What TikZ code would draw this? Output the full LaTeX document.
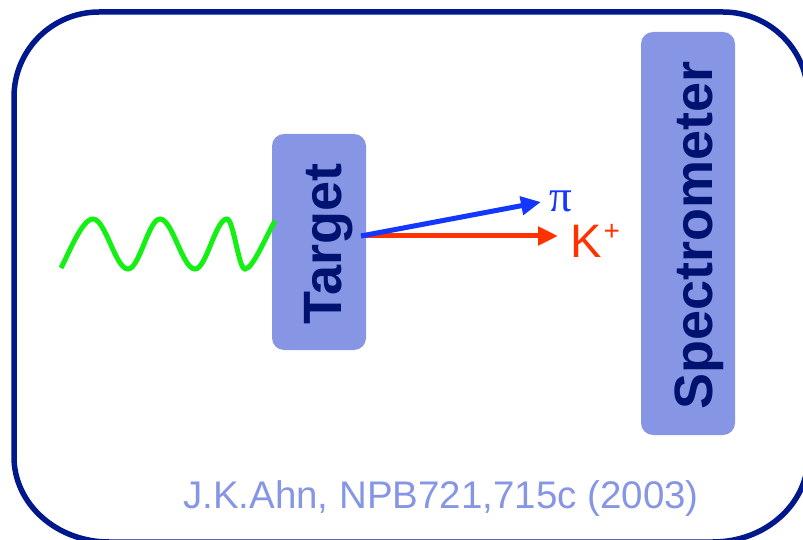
\documentclass[tikz,border=0pt]{standalone}
\usepackage{fontspec}
\setmainfont{Liberation Sans}
\newfontfamily\serifpi{Liberation Serif}
\usetikzlibrary{arrows.meta}
\definecolor{framenavy}{RGB}{0,24,140}
\definecolor{labelnavy}{RGB}{0,18,112}
\definecolor{boxblue}{RGB}{135,150,228}
\definecolor{wavegreen}{RGB}{20,240,20}
\definecolor{kred}{RGB}{255,50,0}
\definecolor{piblue}{RGB}{20,55,255}
\begin{document}
\begin{tikzpicture}[x=1pt,y=1pt,
  box/.style={fill=boxblue, rounded corners=12pt, inner sep=0pt},
  vlabel/.style={rotate=90, anchor=base west, inner sep=0pt, text=labelnavy,
    font=\fontsize{54}{54}\selectfont\bfseries},
  particle/.style={line width=5pt, -{Triangle[length=20pt,width=18pt]}},
  photon/.style={wavegreen, line width=5pt},
  frame/.style={framenavy, line width=5.5pt}]
\useasboundingbox (0,0) rectangle (803,539);
\begin{scope}
\clip (0,0) rectangle (803,539);
\draw[frame] (14,82) -- (14,442) arc[start angle=180, end angle=90, radius=85pt]
  -- (723,527) arc[start angle=90, end angle=0, radius=85pt]
  -- (808,82) arc[start angle=0, end angle=-90, x radius=95pt, y radius=85pt]
  -- (109,-3) arc[start angle=270, end angle=180, x radius=95pt, y radius=85pt]
  -- cycle;
\end{scope}
% boxes
\node[box, minimum width=94pt, minimum height=216pt] (target) at (319,297) {};
\node[box, minimum width=94pt, minimum height=403pt] (spec) at (688,305.5) {};
\node[vlabel] (targetlabel) at (341,214) {Target};
\node[vlabel] (speclabel) at (712,129) {Spectrometer};
% photon
\draw[photon] (61,271) .. controls (69,286) and (82,320) .. (93,320)
  .. controls (105.6,320) and (115.4,270) .. (128,270)
  .. controls (139.5,270) and (148.5,320) .. (160,320)
  .. controls (172.6,320) and (182.4,270) .. (195,270)
  .. controls (206.5,270) and (215.5,320) .. (227,320)
  .. controls (233.5,320) and (238.5,270) .. (245,270)
  .. controls (253,270) and (267,305) .. (275,318);
% particles
\coordinate (vtx) at (361,303);
\coordinate (kend) at (558,303);
\coordinate (piend) at (541,337);
\draw[particle, kred] (vtx) -- (kend);
\draw[particle, piblue] (vtx) -- (piend);
\node[anchor=base west, inner sep=0pt, text=piblue, font=\serifpi\fontsize{45}{45}\selectfont] (pilabel) at (549,327) {π};
\node[anchor=base west, inner sep=0pt, text=kred, font=\fontsize{47}{47}\selectfont] (klabel) at (570,282) {K\kern2pt\raisebox{16.5pt}{\fontsize{28}{28}\selectfont +}};
% citation
\node[anchor=base, inner sep=0pt, text=boxblue, font=\fontsize{38.5}{38.5}\selectfont] (cite) at (441,31) {J.K.Ahn, NPB721,715c (2003)};
\end{tikzpicture}
\end{document}
